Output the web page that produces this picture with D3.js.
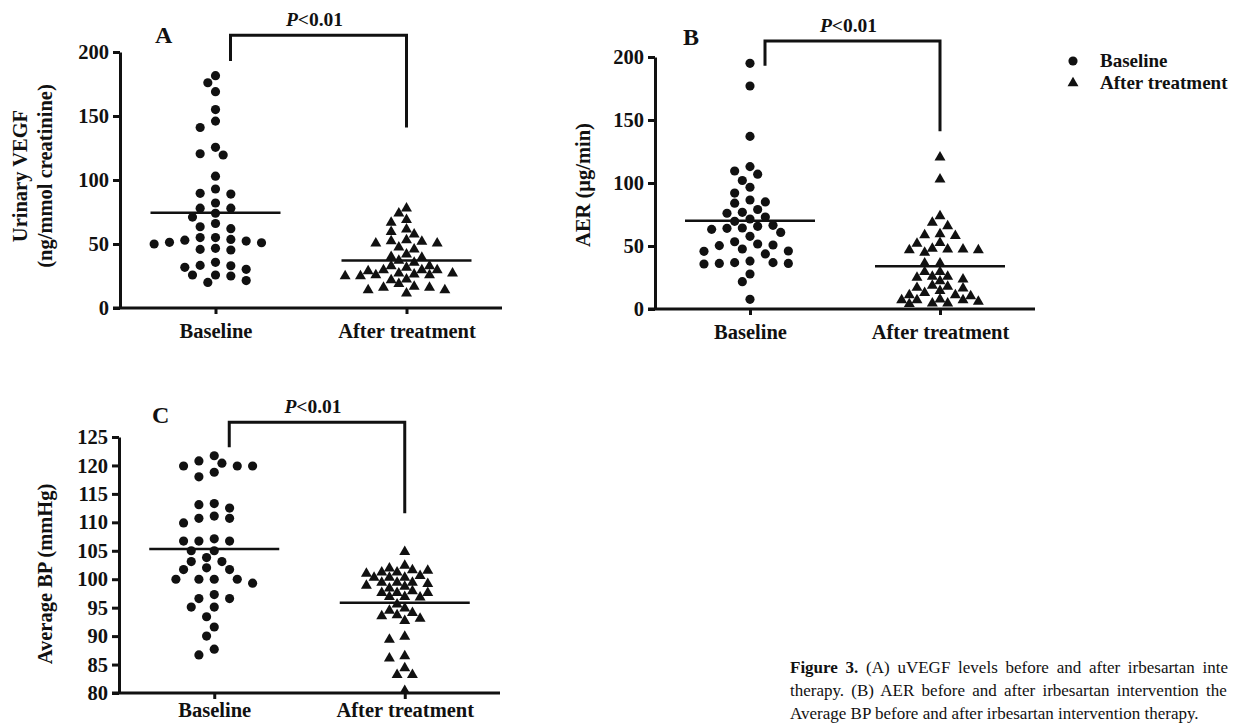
<!DOCTYPE html>
<html>
<head>
<meta charset="utf-8">
<script src="https://cdn.jsdelivr.net/npm/d3@7"></script>
<style>
    body { margin: 0; background: #fff; overflow: hidden; }
    svg text { font-family: "Liberation Serif", "DejaVu Serif", serif; fill: #111; }
</style>
</head>
<body>
<svg id="fig" width="1233" height="723"></svg>
<script>

const groups = ["Baseline", "After treatment"];

// (A) urinary VEGF, ng/mmol creatinine
const vegfBaseline = [181.5, 176, 169, 155, 146, 141, 125.5, 119.5, 120.5, 103,
    89.6, 93, 89, 82, 78, 78, 71, 74, 63.5, 62,
    66, 52.3, 51, 55, 53.6, 53, 55, 50, 51.3, 46.6,
    45.3, 45.8, 31.8, 25.8, 33.3, 33, 35.7, 25, 20, 21.4,
    25.8, 30.2];
const vegfAfter = [77.9, 74, 66.7, 68.8, 61.5, 57.5, 59.6, 50.5, 47.4, 52.3,
    51.8, 53, 45.8, 50.5, 37, 42, 39.3, 40, 35.4, 32.8,
    32.8, 31.5, 27, 29.7, 25.8, 28.9, 25, 29.7, 29.7, 25.8,
    26.3, 27, 22.4, 25, 21.9, 18.8, 15.9, 14, 11.4, 14,
    15.9, 16.7];
const vegfTicks = [0, 50, 100, 150, 200];

// (B) AER, ug/min
const aerBaseline = [195, 177, 137, 109.5, 107, 113, 102, 96.6, 92, 86.5,
    84, 85, 76.7, 76, 79, 73, 71.4, 69.6, 66.4, 64.3,
    63.2, 64, 65.6, 60.8, 57.7, 53.4, 50.8, 50.3, 51.6, 46,
    45.8, 47.6, 43.7, 36.8, 36.2, 35.7, 36.2, 36.8, 38, 27.8,
    21.7, 7.7];
const aerAfter = [120.4, 103, 73.8, 68.5, 65.9, 59.5, 58, 58.7, 52, 52.6,
    47.9, 47.4, 46.8, 44.7, 46.8, 47.4, 36.2, 36.2, 29.4, 25.7,
    29.4, 23.5, 25.7, 22.2, 24.9, 14.5, 18.5, 16.9, 16.4, 17.7,
    12.9, 7.1, 7.1, 11.1, 10.3, 7.7, 11.1, 5.8, 7.1, 4.5,
    4, 4.5];
const aerTicks = [0, 50, 100, 150, 200];

// (C) average BP, mmHg
const bpBaseline = [120.4, 119.9, 118.8, 120.8, 118, 121.7, 119.9, 119.9, 113.1, 113.3,
    112.5, 111.1, 110.7, 109.9, 110.7, 106.7, 106.7, 106.7, 107.1, 105,
    105, 102, 101.7, 103.1, 103.1, 103.8, 101.7, 99.3, 100, 100,
    100, 100, 96.6, 96.6, 97.3, 95.1, 95.1, 93.4, 91.6, 90,
    86.7, 87.7];
const bpAfter = [104.8, 101.2, 101.9, 100.6, 101.5, 100.3, 101.2, 100.3, 101.6, 100.3,
    102.4, 101, 99.4, 99.2, 98.9, 98.4, 98.7, 99.4, 99.4, 97.6,
    96.9, 97.9, 96.9, 96.8, 97.6, 97.6, 94.9, 94.1, 93.5, 95.6,
    92.7, 93.1, 93.7, 94.5, 89.9, 89.4, 86.1, 86.5, 84.4, 83.2,
    83.2, 80.4];
const bpTicks = [80, 85, 90, 95, 100, 105, 110, 115, 120, 125];

const svg = d3.select("#fig");

// greedy column scatter: offsets in half-symbol steps, no overlap
function swarm(values, y, step, minDist) {
    var placed = [];
    var offs = new Array(values.length);
    var order = values.map((v, i) => i).sort((a, b) => values[b] - values[a]);
    order.forEach(function (i) {
        var py = y(values[i]);
        for (var k = 0; k < 60; k++) {
            var o = (k % 2 == 1 ? -1 : 1) * Math.ceil(k / 2) * step;
            var ok = placed.every(p => Math.hypot(p[0] - o, p[1] - py) >= minDist);
            if (ok) {
                placed.push([o, py]);
                offs[i] = o;
                break;
            }
        }
    });
    return offs;
}

function drawPanel(p) {
    var g = svg.append("g");

    var y = d3.scaleLinear().domain(p.domain).range([p.bottom, p.top]);
    var x = d3.scalePoint().domain(groups).range([p.left, p.right]).padding(0.5);

    // Y axis
    var ya = g.append("g")
        .attr("transform", "translate(" + p.left + ",0)")
        .call(d3.axisLeft(y).tickValues(p.ticks).tickSize(7).tickSizeOuter(0).tickPadding(4));
    // X axis
    var xa = g.append("g")
        .attr("transform", "translate(0," + p.bottom + ")")
        .call(d3.axisBottom(x).tickSize(6).tickSizeOuter(0).tickPadding(p.xPad));

    [ya, xa].forEach(function (a) {
        a.selectAll("path, line").attr("stroke", "#111").attr("stroke-width", 3);
        a.selectAll("text").style("font-size", "20.5px").style("font-weight", "bold");
    });
    xa.select(".domain").attr("d", "M" + (p.left - 7) + ",0H" + p.right);

    // y title
    p.title.forEach(function (t, i) {
        g.append("text")
            .attr("transform", "translate(" + p.titleX[i] + "," + p.titleY + ") rotate(-90)")
            .attr("text-anchor", "middle")
            .attr("dy", "0.35em")
            .style("font-size", "20.5px")
            .style("font-weight", "bold")
            .text(t);
    });

    // panel letter
    g.append("text")
        .attr("x", p.left + p.letterDx)
        .attr("y", p.letterY)
        .style("font-size", "24px")
        .style("font-weight", "bold")
        .text(p.letter);

    // significance bracket
    var bx0 = x(groups[0]) + 15, bx1 = x(groups[1]);
    g.append("path")
        .attr("d", "M" + bx0 + "," + y(p.bracket[0]) + "V" + y(p.bracket[1]) +
            "H" + bx1 + "V" + y(p.bracket[2]))
        .attr("fill", "none")
        .attr("stroke", "#111")
        .attr("stroke-width", 3);
    var pt = g.append("text")
        .attr("x", (bx0 + bx1) / 2 - 4)
        .attr("y", y(p.bracket[1]) - 9)
        .attr("text-anchor", "middle")
        .style("font-size", "19.5px")
        .style("font-weight", "bold");
    pt.append("tspan").style("font-style", "italic").text("P");
    pt.append("tspan").text("<0.01");

    // points
    var sets = [
        { name: groups[0], values: p.base, shape: d3.symbolCircle, size: 66, dist: 10 },
        { name: groups[1], values: p.after, shape: d3.symbolTriangle, size: 52, dist: 8.5 }
    ];
    sets.forEach(function (s) {
        var offs = swarm(s.values, y, 7.67, s.dist);
        var cx = x(s.name);
        g.selectAll(null)
            .data(s.values)
            .enter()
            .append("path")
            .attr("d", d3.symbol().type(s.shape).size(s.size))
            .attr("transform", (d, i) => "translate(" + (cx + offs[i]) + "," + y(d) + ")")
            .attr("fill", "#111");

        var m = d3.mean(s.values);
        g.append("line")
            .attr("x1", cx - 65).attr("x2", cx + 65)
            .attr("y1", y(m)).attr("y2", y(m))
            .attr("stroke", "#111")
            .attr("stroke-width", 2.5);
    });
}

drawPanel({
    left: 120, right: 502, top: 52, bottom: 308, domain: [0, 200], ticks: vegfTicks,
    base: vegfBaseline, after: vegfAfter, xPad: 9,
    title: ["Urinary VEGF", "(ng/mmol creatinine)"], titleX: [20, 45], titleY: 176,
    letter: "A", letterDx: 35, letterY: 43, bracket: [193, 213, 141]
});

drawPanel({
    left: 655, right: 1035, top: 57, bottom: 309, domain: [0, 200], ticks: aerTicks,
    base: aerBaseline, after: aerAfter, xPad: 9,
    title: ["AER (μg/min)"], titleX: [583], titleY: 185,
    letter: "B", letterDx: 28, letterY: 45, bracket: [193, 212.7, 141]
});

drawPanel({
    left: 119, right: 500, top: 437, bottom: 693, domain: [80, 125], ticks: bpTicks,
    base: bpBaseline, after: bpAfter, xPad: 3.5,
    title: ["Average BP (mmHg)"], titleX: [45], titleY: 574,
    letter: "C", letterDx: 33, letterY: 423, bracket: [123.2, 127.6, 111.6]
});

// legend
var legend = svg.append("g").attr("transform", "translate(1073,0)");
[[d3.symbolCircle, 66, groups[0], 61], [d3.symbolTriangle, 52, groups[1], 83]].forEach(function (d) {
    legend.append("path")
        .attr("d", d3.symbol().type(d[0]).size(d[1]))
        .attr("transform", "translate(0," + d[3] + ")")
        .attr("fill", "#111");
    legend.append("text")
        .attr("x", 27)
        .attr("y", d[3] + 6)
        .style("font-size", "19px")
        .style("font-weight", "bold")
        .text(d[2]);
});

// caption (cut at the right edge, as in the source page)
var caption = svg.append("g").attr("transform", "translate(790,0)");
var l1 = caption.append("text").attr("y", 673).style("font-size", "17px").style("word-spacing", "3.5px");
l1.append("tspan").style("font-weight", "bold").text("Figure 3.");
l1.append("tspan").text(" (A) uVEGF levels before and after irbesartan inte");
caption.append("text").attr("y", 696).style("font-size", "17px").style("word-spacing", "3px")
    .text("therapy. (B) AER before and after irbesartan intervention the");
caption.append("text").attr("y", 719).style("font-size", "17px")
    .text("Average BP before and after irbesartan intervention therapy.");

</script>
</body>
</html>
